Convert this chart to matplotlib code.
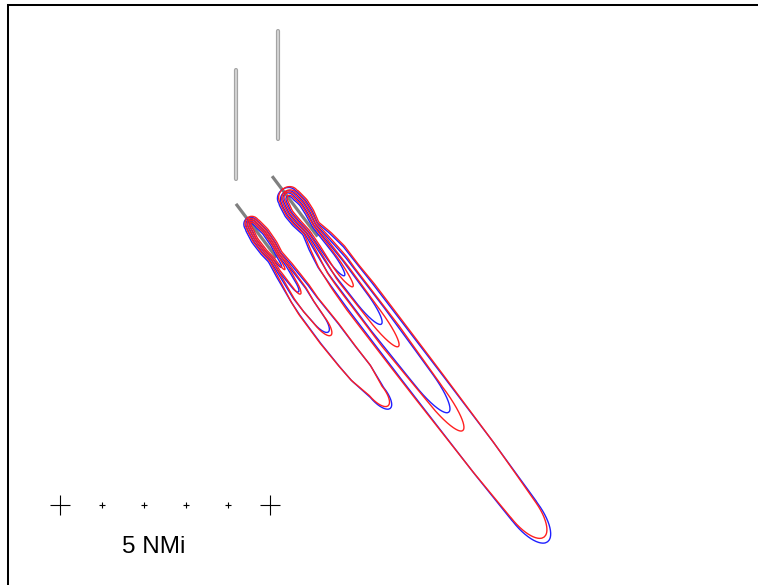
import numpy as np
import matplotlib
matplotlib.use("Agg")
import matplotlib.pyplot as plt

# all distances in nautical miles, origin at the left end of the scale bar
# east = +x, north = +y

# runways (x, y_start, y_end)
runway_x = [4.20, 5.20]
runway_y0 = [7.76, 8.71]
runway_y1 = [10.36, 11.29]

# departure tracks: start point, bearing (deg), drawn length
track_x0 = [4.19, 5.05]
track_y0 = [7.17, 7.83]
track_bearing = [143.0, 143.0]
track_len = [1.60, 1.80]

# lateral drift of the contour centreline (along-track s, offset t to the right)
left_bend_s = [0.0, 1.50, 3.00, 4.50, 6.10]
left_bend_t = [0.0, 0.03, 0.09, 0.07, 0.00]
right_bend_s = [0.0, 1.50, 2.80, 5.00, 7.50, 10.90]
right_bend_t = [0.0, 0.03, 0.05, 0.04, 0.02, 0.00]

# lateral offset of the red case against the blue one
red_shift_s = [0.0, 2.00, 3.00, 11.0]
red_shift_t = [-0.035, -0.035, 0.0, 0.0]

# contour profiles: (distance along track, half width), ends have width 0
# left track
left_l1_blue = [(0.43, 0), (0.62, 0.18), (0.95, 0.23), (1.31, 0.22), (1.57, 0.18), (1.90, 0.22),
                (2.62, 0.28), (3.81, 0.31), (5.00, 0.29), (5.60, 0.20), (6.10, 0)]
left_l1_red = [(0.43, 0), (0.62, 0.18), (0.95, 0.23), (1.31, 0.22), (1.57, 0.18), (1.90, 0.22),
               (2.62, 0.29), (3.81, 0.32), (5.00, 0.29), (5.55, 0.19), (6.02, 0)]
left_l2_blue = [(0.48, 0), (0.67, 0.14), (0.95, 0.18), (1.31, 0.17), (1.57, 0.13), (1.90, 0.15),
                (2.62, 0.19), (3.33, 0.15), (3.76, 0)]
left_l2_red = [(0.48, 0), (0.67, 0.14), (0.95, 0.18), (1.31, 0.17), (1.57, 0.13), (1.90, 0.15),
               (2.62, 0.19), (3.40, 0.15), (3.86, 0)]
left_l3_blue = [(0.52, 0), (0.71, 0.10), (0.95, 0.14), (1.31, 0.13), (1.57, 0.09), (1.90, 0.11),
                (2.26, 0.08), (2.57, 0)]
left_l3_red = [(0.52, 0), (0.71, 0.10), (0.95, 0.14), (1.31, 0.13), (1.57, 0.09), (1.90, 0.11),
               (2.30, 0.08), (2.64, 0)]
left_l4_blue = [(0.57, 0), (0.76, 0.06), (0.95, 0.10), (1.31, 0.09), (1.57, 0.05), (1.86, 0)]
left_l4_red = [(0.57, 0), (0.76, 0.06), (0.95, 0.10), (1.31, 0.09), (1.57, 0.05), (1.95, 0)]

# right track
right_l1_blue = [(0.40, 0), (0.62, 0.26), (0.95, 0.31), (1.24, 0.29), (1.55, 0.22), (1.90, 0.31),
                 (2.38, 0.39), (3.57, 0.42), (5.95, 0.42), (8.33, 0.41), (10.00, 0.37), (10.90, 0)]
right_l1_red = [(0.40, 0), (0.62, 0.26), (0.95, 0.31), (1.24, 0.29), (1.55, 0.22), (1.90, 0.31),
                (2.38, 0.40), (3.57, 0.45), (5.95, 0.44), (8.33, 0.41), (9.90, 0.35), (10.76, 0)]
right_l2_blue = [(0.48, 0), (0.67, 0.21), (0.95, 0.25), (1.24, 0.23), (1.55, 0.17), (1.90, 0.21),
                 (2.62, 0.28), (4.29, 0.29), (5.95, 0.25), (7.02, 0)]
right_l2_red = [(0.48, 0), (0.67, 0.21), (0.95, 0.25), (1.24, 0.23), (1.55, 0.17), (1.90, 0.21),
                (2.62, 0.30), (4.76, 0.31), (6.43, 0.25), (7.57, 0)]
right_l3_blue = [(0.52, 0), (0.71, 0.15), (0.95, 0.19), (1.24, 0.17), (1.55, 0.12), (1.90, 0.14),
                 (2.62, 0.18), (3.57, 0.17), (4.38, 0)]
right_l3_red = [(0.52, 0), (0.71, 0.15), (0.95, 0.19), (1.24, 0.17), (1.55, 0.12), (1.90, 0.14),
                (2.86, 0.20), (4.05, 0.18), (5.05, 0)]
right_l4_blue = [(0.60, 0), (0.76, 0.09), (0.95, 0.13), (1.24, 0.11), (1.55, 0.07), (1.90, 0.08),
                 (2.38, 0.10), (2.93, 0)]
right_l4_red = [(0.60, 0), (0.76, 0.09), (0.95, 0.13), (1.24, 0.11), (1.55, 0.07), (1.90, 0.08),
                (2.62, 0.11), (3.26, 0)]

left_blue = [left_l1_blue, left_l2_blue, left_l3_blue, left_l4_blue]
left_red = [left_l1_red, left_l2_red, left_l3_red, left_l4_red]
right_blue = [right_l1_blue, right_l2_blue, right_l3_blue, right_l4_blue]
right_red = [right_l1_red, right_l2_red, right_l3_red, right_l4_red]

# scale bar
scale_ticks = [0, 1, 2, 3, 4, 5]
scale_label = '5 NMi'

BLUE = '#2020ff'
RED = '#ff2020'


def outline(profile, x0, y0, bearing, bend_s, bend_t, shift=False):
    sp = np.array([p[0] for p in profile])
    wp = np.array([p[1] for p in profile])
    s = np.arange(sp[0], sp[-1] + 1e-9, 0.01)
    w = np.interp(s, sp, wp)
    # smooth the piecewise profile a little
    k = np.hanning(17)
    k /= k.sum()
    w = np.convolve(np.pad(w, 8, mode='edge'), k, mode='valid')
    # rounded ends
    a = s < sp[1]
    w[a] = np.interp(sp[1], s, w) * np.sqrt(np.clip(1 - ((sp[1] - s[a]) / (sp[1] - sp[0])) ** 2, 0, 1))
    b = s > sp[-2]
    w[b] = np.interp(sp[-2], s, w) * np.sqrt(np.clip(1 - ((s[b] - sp[-2]) / (sp[-1] - sp[-2])) ** 2, 0, 1))
    c = np.interp(s, bend_s, bend_t)
    if shift:
        c = c + np.interp(s, red_shift_s, red_shift_t)
    ss = np.concatenate([s, s[::-1], s[:1]])
    tt = np.concatenate([c + w, (c - w)[::-1], (c + w)[:1]])
    br = np.radians(bearing)
    ux, uy = np.sin(br), np.cos(br)
    nx, ny = np.cos(br), -np.sin(br)
    return x0 + ss * ux + tt * nx, y0 + ss * uy + tt * ny


W, H = 758, 585
fig = plt.figure(figsize=(W / 100, H / 100), dpi=100)
px = 42.0  # pixels per NMi
left_px, top_px, right_px, bottom_px = 7.7, 5.0, 780, 600
ax = fig.add_axes([left_px / W, 1 - bottom_px / H, (right_px - left_px) / W, (bottom_px - top_px) / H])
ax.set_xlim((left_px - 60) / px, (right_px - 60) / px)
ax.set_ylim((505 - bottom_px) / px, (505 - top_px) / px)
ax.set_xticks([])
ax.set_yticks([])
for side in ['left', 'top']:
    ax.spines[side].set_linewidth(1.45)
    ax.spines[side].set_color('black')

# runways
for x, y0, y1 in zip(runway_x, runway_y0, runway_y1):
    ax.plot([x, x], [y0, y1], color='#a4a4a4', lw=3.0, solid_capstyle='round', zorder=2)
    ax.plot([x, x], [y0, y1], color='#d6d6d6', lw=1.3, solid_capstyle='round', zorder=3)

# tracks
for x0, y0, br, ln in zip(track_x0, track_y0, track_bearing, track_len):
    r = np.radians(br)
    ax.plot([x0, x0 + ln * np.sin(r)], [y0, y0 + ln * np.cos(r)],
            color='#808080', lw=2.3, solid_capstyle='butt', zorder=2)

# contours
for i, (bs, bt, blues, reds) in enumerate([(left_bend_s, left_bend_t, left_blue, left_red),
                                           (right_bend_s, right_bend_t, right_blue, right_red)]):
    for prof in blues:
        x, y = outline(prof, track_x0[i], track_y0[i], track_bearing[i], bs, bt)
        ax.plot(x, y, color=BLUE, lw=1.0, zorder=4)
    for prof in reds:
        x, y = outline(prof, track_x0[i], track_y0[i], track_bearing[i], bs, bt, shift=True)
        ax.plot(x, y, color=RED, lw=1.0, zorder=5)

# scale bar
for i, t in enumerate(scale_ticks):
    big = i == 0 or i == len(scale_ticks) - 1
    ax.plot([t], [0], marker='+', color='black', ls='none',
            markersize=14.4 if big else 4.5, markeredgewidth=0.8, zorder=5)
ax.text(2.23, -1.0, scale_label, ha='center', va='center', fontsize=17.5,
        family=['Liberation Sans', 'DejaVu Sans'])

fig.savefig('out.png', dpi=100)
